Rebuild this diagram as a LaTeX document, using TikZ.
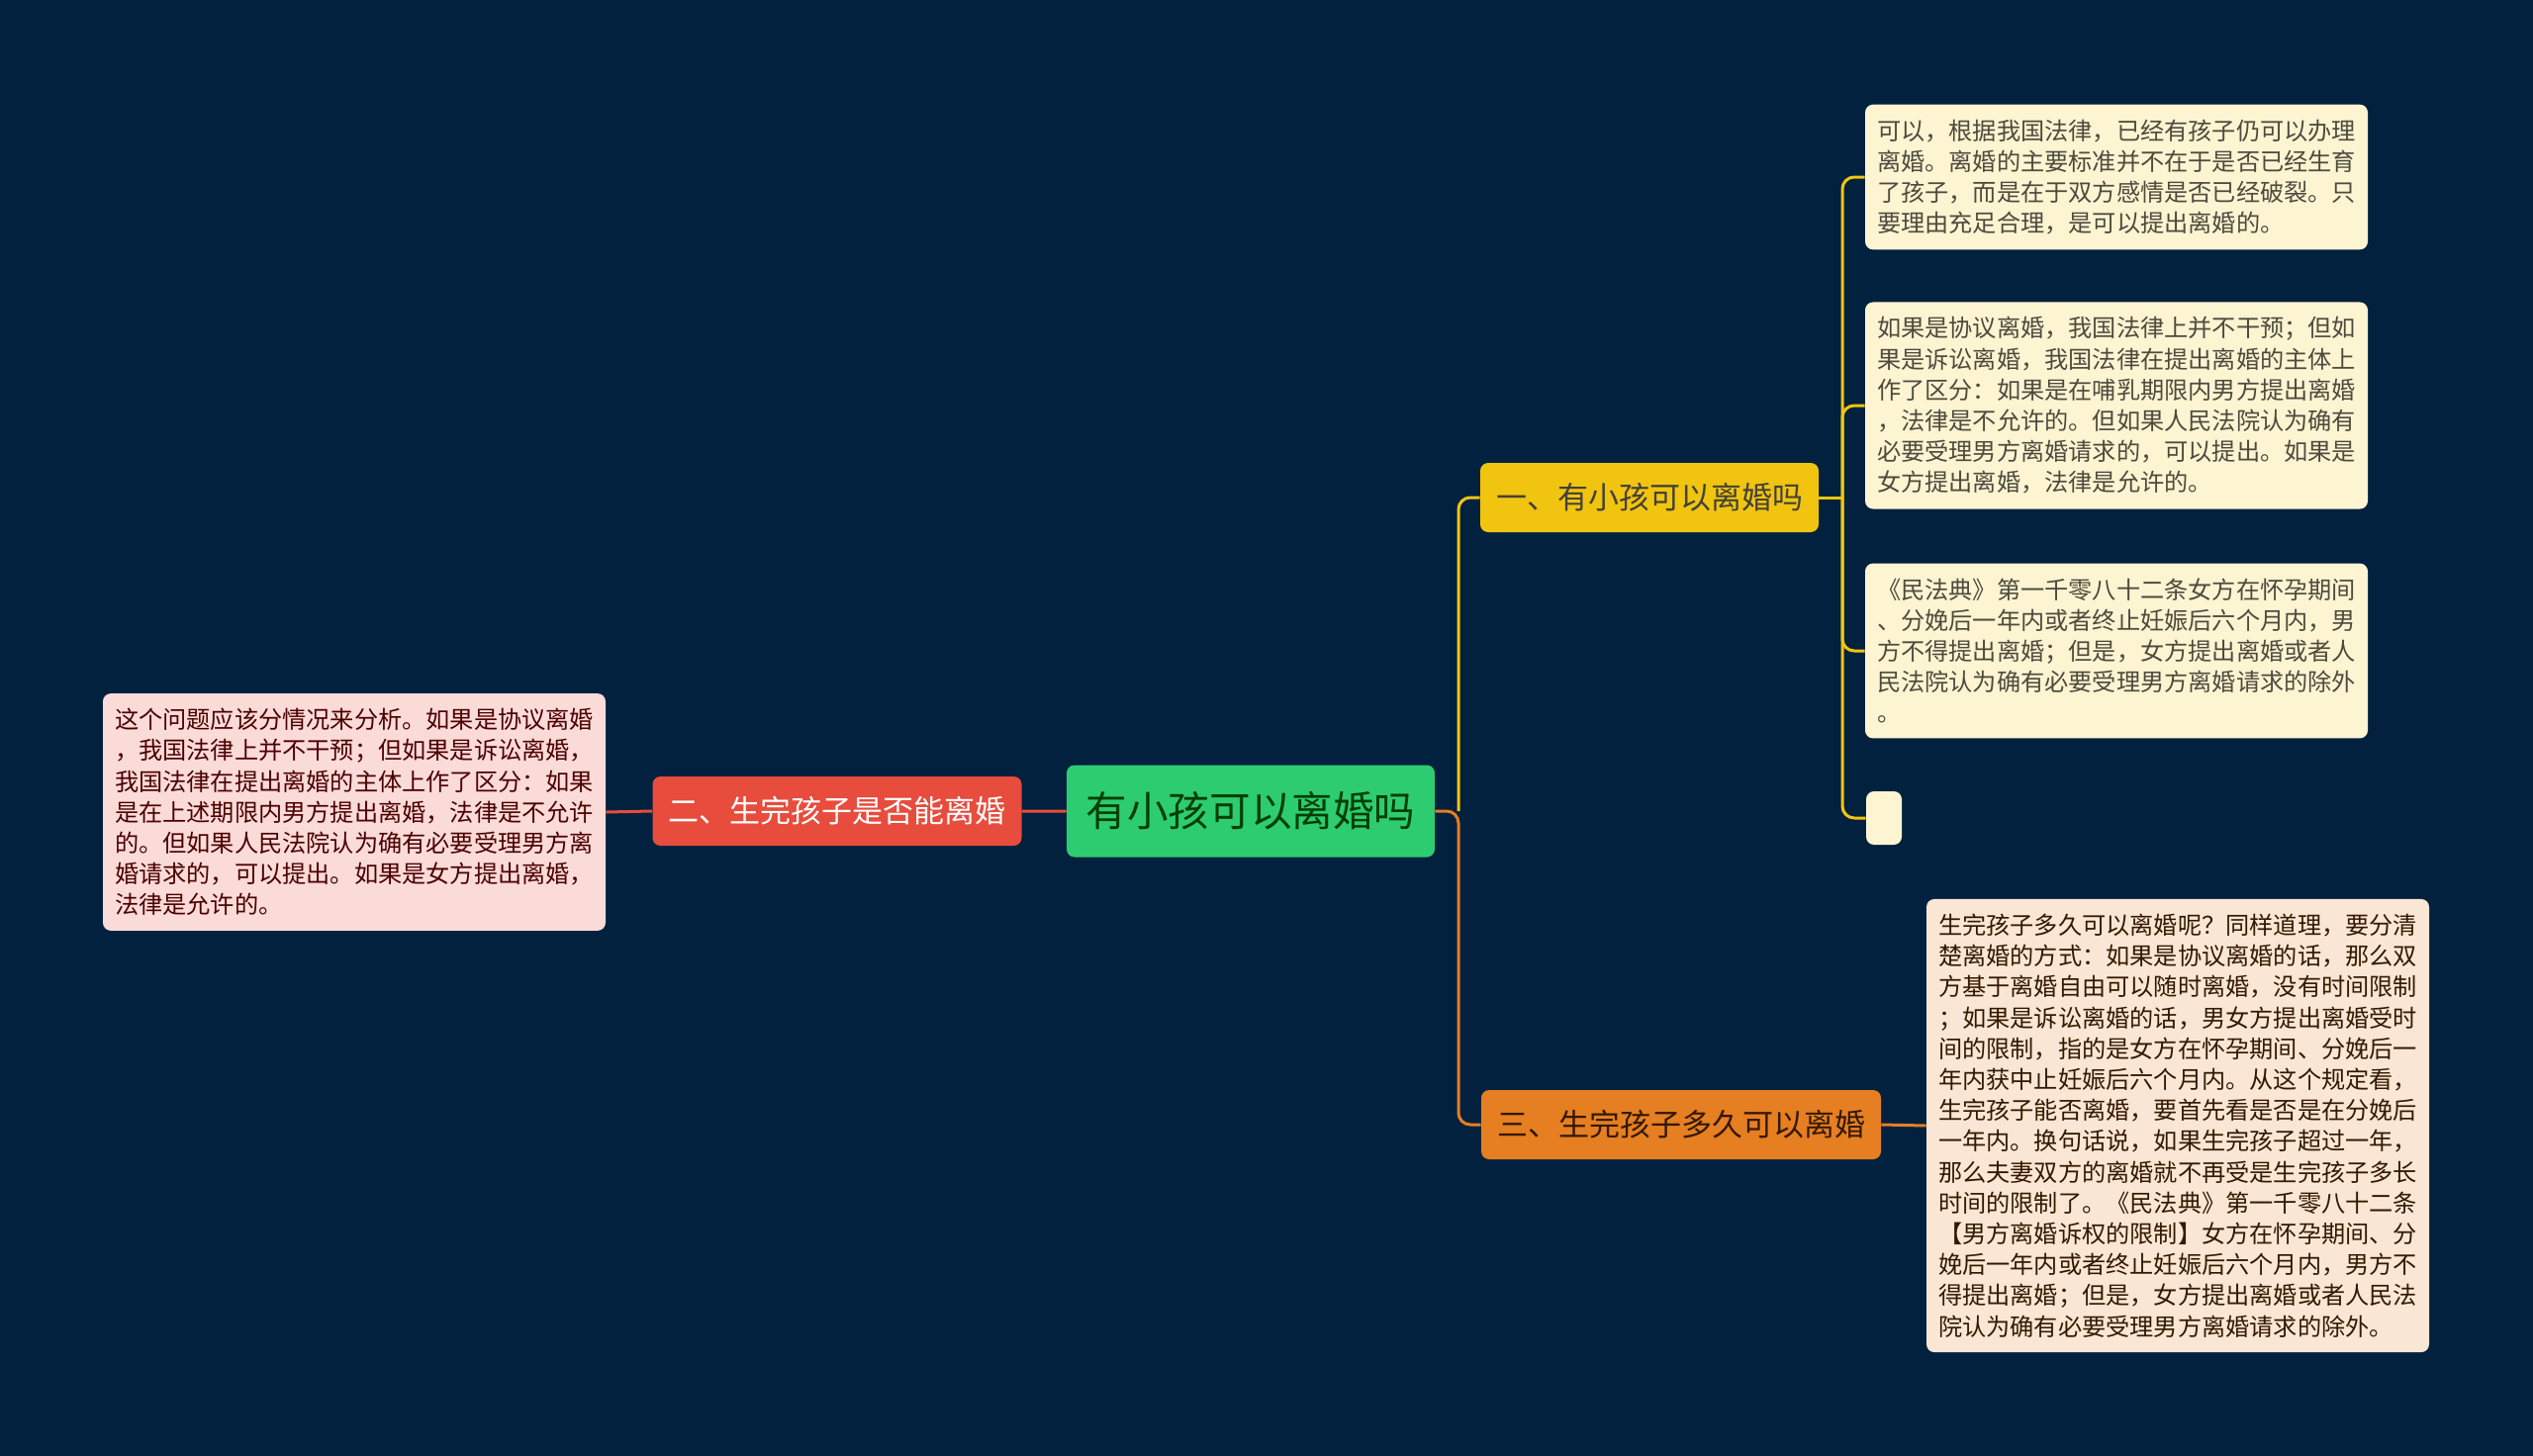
\documentclass[tikz,border=0pt]{standalone}
\usepackage{fontspec}
\newfontfamily\cjk{Noto Sans CJK SC}
\definecolor{bgnavy}{HTML}{01213F}
\definecolor{rootgreen}{HTML}{2ECC71}
\definecolor{topred}{HTML}{E74C3C}
\definecolor{topyellow}{HTML}{F1C40F}
\definecolor{toporange}{HTML}{E67E22}
\definecolor{leafyellow}{HTML}{FDF4D2}
\definecolor{leafred}{HTML}{FADBD8}
\definecolor{leaforange}{HTML}{FAE6D4}
\begin{document}
\begin{tikzpicture}[x=0.5pt, y=-0.5pt,
    every node/.style={inner sep=0pt, rounded corners=4pt},
    topic/.style={fill=#1, inner xsep=8pt, minimum height=35pt, font=\cjk\fontsize{15.5pt}{18pt}\selectfont},
    leaf/.style={fill=#1, align=left, inner xsep=6pt, inner ysep=7.5pt, minimum width=254pt, font=\cjk\fontsize{12.1pt}{15.6pt}\selectfont},
    link/.style={draw=#1, line width=1.5pt, rounded corners=6pt}]
    \fill[bgnavy] (0,0) rectangle (2560,1472);
    \useasboundingbox (0,0) rectangle (2560,1472);

    % centre and the three topics
    \node[fill=rootgreen, text=black!75!green, minimum width=186pt, minimum height=46.5pt,
        font=\cjk\fontsize{20.8pt}{24pt}\selectfont] (root) at (1264,820) {有小孩可以离婚吗};
    \node[topic=topyellow, text=black!85!yellow] (t-1) at (1667,503) {一、有小孩可以离婚吗};
    \node[topic=topred, text=white] (t-2) at (846,820) {二、生完孩子是否能离婚};
    \node[topic=toporange, text=black!80!orange] (t-3) at (1699,1137) {三、生完孩子多久可以离婚};

    % leaves
    \node[leaf=leafyellow, text=black!80!yellow] (lf-1) at (2139,179) {可以，根据我国法律，已经有孩子仍可以办理\\离婚。离婚的主要标准并不在于是否已经生育\\了孩子，而是在于双方感情是否已经破裂。只\\要理由充足合理，是可以提出离婚的。};
    \node[leaf=leafyellow, text=black!80!yellow] (lf-2) at (2139,410) {如果是协议离婚，我国法律上并不干预；但如\\果是诉讼离婚，我国法律在提出离婚的主体上\\作了区分：如果是在哺乳期限内男方提出离婚\\，法律是不允许的。但如果人民法院认为确有\\必要受理男方离婚请求的，可以提出。如果是\\女方提出离婚，法律是允许的。};
    \node[leaf=leafyellow, text=black!80!yellow] (lf-3) at (2139,658) {《民法典》第一千零八十二条女方在怀孕期间\\、分娩后一年内或者终止妊娠后六个月内，男\\方不得提出离婚；但是，女方提出离婚或者人\\民法院认为确有必要受理男方离婚请求的除外\\。};
    \node[fill=leafyellow, minimum width=18pt, minimum height=27pt] (lf-4) at (1904,827) {};
    \node[leaf=leafred, text=black!70!red] (lf-red) at (358,821) {这个问题应该分情况来分析。如果是协议离婚\\，我国法律上并不干预；但如果是诉讼离婚，\\我国法律在提出离婚的主体上作了区分：如果\\是在上述期限内男方提出离婚，法律是不允许\\的。但如果人民法院认为确有必要受理男方离\\婚请求的，可以提出。如果是女方提出离婚，\\法律是允许的。};
    \node[leaf=leaforange, text=black!80!orange] (lf-or) at (2201,1138) {生完孩子多久可以离婚呢？同样道理，要分清\\楚离婚的方式：如果是协议离婚的话，那么双\\方基于离婚自由可以随时离婚，没有时间限制\\；如果是诉讼离婚的话，男女方提出离婚受时\\间的限制，指的是女方在怀孕期间、分娩后一\\年内获中止妊娠后六个月内。从这个规定看，\\生完孩子能否离婚，要首先看是否是在分娩后\\一年内。换句话说，如果生完孩子超过一年，\\那么夫妻双方的离婚就不再受是生完孩子多长\\时间的限制了。《民法典》第一千零八十二条\\【男方离婚诉权的限制】女方在怀孕期间、分\\娩后一年内或者终止妊娠后六个月内，男方不\\得提出离婚；但是，女方提出离婚或者人民法\\院认为确有必要受理男方离婚请求的除外。};

    % connectors
    \coordinate (hub) at (1474,820);
    \coordinate (hub-1) at (1862,503);
    \draw[link=topyellow] (hub) |- (t-1.west);
    \draw[link=toporange] (root.east) -- (hub) |- (t-3.west);
    \draw[link=topred] (root.west) -- (t-2.east) (t-2.west) -- (lf-red.east);
    \draw[link=topyellow] (t-1.east) -- (hub-1);
    \foreach \idx in {1,...,4}
        \draw[link=topyellow] (hub-1) |- (lf-\idx.west);
    \draw[link=toporange] (t-3.east) -- (lf-or.west);
\end{tikzpicture}
\end{document}
